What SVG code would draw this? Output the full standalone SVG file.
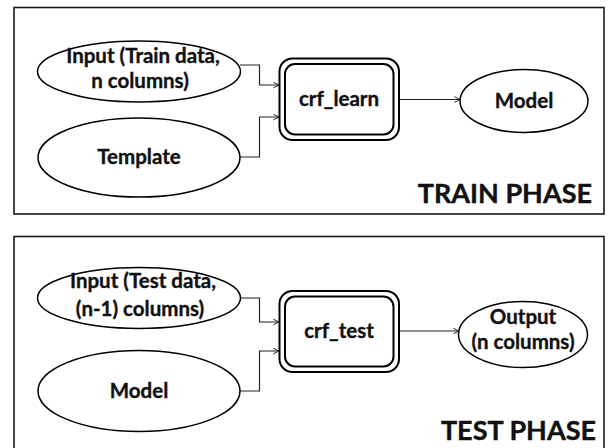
<svg xmlns="http://www.w3.org/2000/svg" width="608" height="448" viewBox="0 0 608 448">
  <style>
    .frame { fill: #ffffff; stroke: #1a1a1a; stroke-width: 1.6; }
    .node { fill: #ffffff; stroke: #000000; stroke-width: 1.5; }
    .box-outer { fill: #ffffff; stroke: #000000; stroke-width: 2; }
    .box-inner { fill: none; stroke: #000000; stroke-width: 2; }
    .label { font-family: Lato, "Open Sans", "Liberation Sans", sans-serif; font-weight: bold; font-size: 20.5px; fill: #111111; stroke: #111111; stroke-width: 0.35; text-anchor: middle; }
    .phase { font-family: Lato, "Open Sans", "Liberation Sans", sans-serif; font-weight: bold; font-size: 27px; fill: #111111; stroke: #111111; stroke-width: 0.4; text-anchor: end; }
    .wire { fill: none; stroke: #222222; stroke-width: 1.2; marker-end: url(#chev); }
  </style>
  <defs>
    <marker id="chev" viewBox="0 0 10 10" refX="9" refY="5" markerWidth="7" markerHeight="7" markerUnits="userSpaceOnUse" orient="auto">
      <path d="M1,1 L9,5 L1,9" fill="none" stroke="#222222" stroke-width="1.4"/>
    </marker>
  </defs>

  <rect width="608" height="448" fill="#ffffff"/>

  <!-- training panel -->
  <g id="train-panel">
    <rect class="frame" x="14" y="7.5" width="590" height="206.5"/>
    <text class="phase" x="592" y="203">TRAIN PHASE</text>
  </g>

  <!-- test panel -->
  <g id="test-panel">
    <rect class="frame" x="14" y="236.5" width="590" height="220"/>
    <text class="phase" x="596" y="440">TEST PHASE</text>
  </g>

  <!-- connectors -->
  <g id="connectors">
    <path class="wire" d="M240,65 H259.5 V85 H279"/>
    <path class="wire" d="M240,157 H259.5 V117 H279"/>
    <path class="wire" d="M399,99.5 H460"/>
    <path class="wire" d="M240,298 H259.5 V322 H279"/>
    <path class="wire" d="M240,391 H259.5 V351 H279"/>
    <path class="wire" d="M399,331 H459"/>
  </g>

  <!-- training nodes -->
  <g id="train-input">
    <ellipse class="node" cx="139" cy="71.5" rx="101.5" ry="30.5"/>
    <text class="label" x="143" y="63">Input (Train data,</text>
    <text class="label" x="140" y="88">n columns)</text>
  </g>
  <g id="train-template">
    <ellipse class="node" cx="139" cy="157.5" rx="101" ry="39.5"/>
    <text class="label" x="139" y="164">Template</text>
  </g>
  <g id="crf-learn">
    <rect class="box-outer" x="279.5" y="58.5" width="119.5" height="81.5" rx="13"/>
    <rect class="box-inner" x="285" y="64" width="108.5" height="70.5" rx="10"/>
    <text class="label" x="339" y="106">crf_learn</text>
  </g>
  <g id="train-model">
    <ellipse class="node" cx="524" cy="101" rx="64" ry="31.5"/>
    <text class="label" x="524" y="108">Model</text>
  </g>

  <!-- test nodes -->
  <g id="test-input">
    <ellipse class="node" cx="139" cy="298" rx="101.5" ry="30.5"/>
    <text class="label" x="143" y="288">Input (Test data,</text>
    <text class="label" x="140" y="316">(n-1) columns)</text>
  </g>
  <g id="test-model">
    <ellipse class="node" cx="139" cy="391" rx="101" ry="40.5"/>
    <text class="label" x="139" y="398">Model</text>
  </g>
  <g id="crf-test">
    <rect class="box-outer" x="279.5" y="291" width="119.5" height="81" rx="13"/>
    <rect class="box-inner" x="285" y="296.5" width="108.5" height="70" rx="10"/>
    <text class="label" x="339" y="338">crf_test</text>
  </g>
  <g id="test-output">
    <ellipse class="node" cx="523" cy="334.5" rx="64.5" ry="33"/>
    <text class="label" x="523" y="324">Output</text>
    <text class="label" x="523" y="349">(n columns)</text>
  </g>
</svg>
